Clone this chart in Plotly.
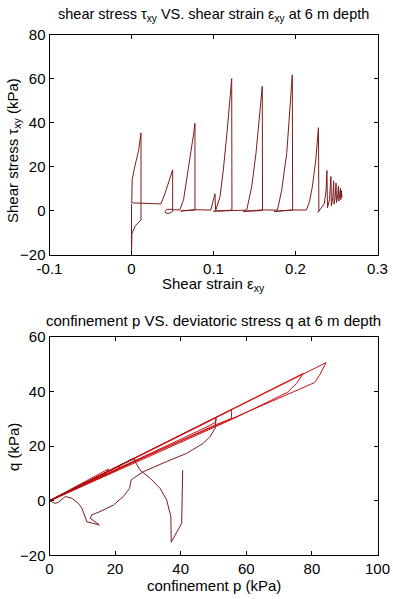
import plotly.graph_objects as go

# ---------------- top panel: shear strain vs shear stress ----------------
strain = [0.0000, 0.0000, 0.0000, 0.0005, 0.0045, 0.0116, 0.0116, 0.0085, 0.0040, 0.0008, 0.0003,
          0.0200, 0.0360, 0.0410, 0.0470, 0.0502, 0.0502, 0.0460, 0.0420, 0.0410, 0.0430, 0.0480,
          0.0520, 0.0590, 0.0635, 0.0673, 0.0705, 0.0734, 0.0758, 0.0774, 0.0774, 0.0600, 0.0775,
          0.0966, 0.0990, 0.1018, 0.1025, 0.1030, 0.1080, 0.1120, 0.1168, 0.1200, 0.1222, 0.1225,
          0.1000, 0.1405, 0.1466, 0.1518, 0.1567, 0.1595, 0.1598, 0.1360, 0.1600, 0.1780, 0.1832,
          0.1893, 0.1933, 0.1961, 0.1965, 0.1740, 0.1970, 0.2132, 0.2170, 0.2206, 0.2247, 0.2280,
          0.2285, 0.2275, 0.2300, 0.2350, 0.2372, 0.2383, 0.2390, 0.2415, 0.2432, 0.2438, 0.2455,
          0.2465, 0.2471, 0.2485, 0.2494, 0.2500, 0.2515, 0.2523, 0.2529, 0.2541, 0.2548, 0.2552,
          0.2560, 0.2565, 0.2558, 0.2566, 0.2556, 0.2562]
stress = [3.0, -19.5, -12.0, -10.5, -7.1, -4.2, 35.3, 27.0, 20.0, 14.0, 3.5,
          3.2, 3.0, 8.0, 14.7, 18.5, -0.4, -1.3, -1.2, -0.3, 0.5, 0.6,
          0.3, 0.3, 5.0, 14.0, 21.0, 29.0, 35.0, 39.7, 0.2, -0.2, 0.4,
          0.2, 3.5, 7.6, 0.3, 0.3, 6.4, 18.5, 36.7, 50.0, 60.0, 0.2,
          -0.3, 0.2, 10.9, 26.0, 44.0, 56.5, 0.0, -0.4, 0.3, 0.2, 9.4,
          26.0, 45.8, 61.7, 0.2, -0.4, 0.3, 0.2, 4.0, 10.9, 23.0, 37.7,
          0.2, -0.8, 0.4, 3.0, 9.0, 18.2, 1.3, 5.0, 15.5, 2.1, 6.0,
          13.5, 2.9, 6.5, 12.5, 3.6, 7.0, 11.2, 4.3, 7.5, 10.2, 5.0,
          9.0, 6.0, 8.5, 6.5, 8.0, 7.2]

# ---------------- bottom panel: confinement p vs deviatoric q ----------------
# initial / transient path (dark)
p_path = [40.6, 40.3, 37.1, 37.0, 35.7, 33.7, 30.7, 27.6, 26.1, 25.6,
          20.0, 12.0, 6.0, 3.0, 0.5, 0.0, 1.7, 2.7, 4.8, 6.8, 8.8, 9.9, 10.4, 10.9, 11.4,
          15.2, 12.4, 12.9, 15.4, 19.5, 22.5, 24.4, 24.9, 25.6, 28.6, 35.7, 41.8, 46.9,
          48.9, 50.5, 50.8]
q_path = [11.2, -8.3, -15.2, -5.8, 0.3, 4.5, 8.2, 11.2, 14.3, 15.5,
          11.9, 7.0, 3.4, 1.6, 0.2, 0.0, -1.0, -0.6, 1.5, 0.9, -1.0, -2.8, -4.6, -6.4, -7.7,
          -8.9, -6.4, -5.2, -4.0, -1.6, 1.5, 4.5, 7.6, 8.2, 10.6, 14.3, 17.3, 21.0,
          23.4, 26.5, 30.1]

# loading cycles along the failure lines (bright)
p_cyc = [0.0, 18.0, 17.0, 0.2, 0.0, 22.0, 20.5, 0.3, 0.0, 25.6, 26.3, 0.4, 0.0,
         50.8, 50.5, 48.0, 26.0, 0.3, 0.0, 55.5, 55.5, 50.5,
         25.0, 0.5, 0.0, 77.4, 75.3, 72.5, 55.0, 0.2, 0.0, 84.3, 82.3, 80.8, 60.0, 30.0, 0.0]
q_cyc = [0.0, 11.6, 9.8, 0.1, 0.0, 13.3, 11.2, 0.0, 0.0, 15.5, 14.8, 0.1, 0.0,
         30.4, 28.6, 27.0, 14.5, 0.1, 0.0, 33.3, 30.1, 27.7,
         13.6, 0.2, 0.0, 46.6, 42.9, 39.6, 29.4, 0.0, 0.0, 50.5, 45.8, 43.2, 32.2, 16.6, 0.0]

DARK = "#7c1c1c"
BRIGHT = "#cc1111"
FONT = "Liberation Sans, Arial, sans-serif"

fig = go.Figure()
fig.add_trace(go.Scatter(x=strain, y=stress, mode="lines", line=dict(color=DARK, width=1),
                         xaxis="x", yaxis="y", showlegend=False, hoverinfo="skip"))
fig.add_trace(go.Scatter(x=p_cyc, y=q_cyc, mode="lines", line=dict(color=BRIGHT, width=1),
                         xaxis="x2", yaxis="y2", showlegend=False, hoverinfo="skip"))
fig.add_trace(go.Scatter(x=p_path, y=q_path, mode="lines", line=dict(color=DARK, width=1),
                         xaxis="x2", yaxis="y2", showlegend=False, hoverinfo="skip"))

# body margin is removed by a post script, so the figure fills the window
W, H = 393, 599

def fx(px):
    return px / W

def fy(py):
    return 1 - py / H

xdom = [fx(49.5), fx(377.5)]

def ax(**kw):
    d = dict(showline=True, linecolor="black", linewidth=1, mirror="ticks", ticks="inside",
             ticklen=4, tickcolor="black", showgrid=False, zeroline=False, automargin=False,
             tickfont=dict(family=FONT, size=15, color="black"))
    d.update(kw)
    return d

tx_vals = [-0.1, 0, 0.1, 0.2, 0.3]
tx_text = ["-0.1", "0", "0.1", "0.2", "0.3"]
ty_vals = [-20, 0, 20, 40, 60, 80]
bx_vals = [0, 20, 40, 60, 80, 100]
by_vals = [-20, 0, 20, 40, 60]

fig.update_layout(
    width=W, height=H, margin=dict(l=0, r=0, t=0, b=0, pad=0, autoexpand=False),
    paper_bgcolor="white", plot_bgcolor="white",
    xaxis=ax(domain=xdom, range=[-0.1, 0.3], tickvals=tx_vals, ticktext=tx_text, anchor="y"),
    yaxis=ax(domain=[fy(254.5), fy(34.7)], range=[-20, 80], tickvals=ty_vals, anchor="x"),
    xaxis2=ax(domain=xdom, range=[0, 100], tickvals=bx_vals, anchor="y2"),
    yaxis2=ax(domain=[fy(555.3), fy(336.7)], range=[-20, 60], tickvals=by_vals, anchor="x2"),
)

def ann(text, px, py, angle=0, size=15):
    fig.add_annotation(text=text, x=fx(px), y=fy(py), xref="paper", yref="paper", showarrow=False,
                       xanchor="center", yanchor="middle", textangle=angle,
                       font=dict(family=FONT, size=size, color="black"))

ann("shear stress τ<sub>xy</sub> VS. shear strain ε<sub>xy</sub> at 6 m depth", 213.5, 15, size=14.5)
ann("Shear strain ε<sub>xy</sub>", 213.5, 284)
ann("Shear stress τ<sub>xy</sub> (kPa)", 13, 151, angle=-90)
ann("confinement p VS. deviatoric stress q at 6 m depth", 213.5, 320)
ann("confinement p (kPa)", 213.5, 585)
ann("q (kPa)", 13, 447, angle=-90)

fig.write_html("out.html", config={"displayModeBar": False, "staticPlot": True},
               post_script="document.body.style.margin='0px';")
